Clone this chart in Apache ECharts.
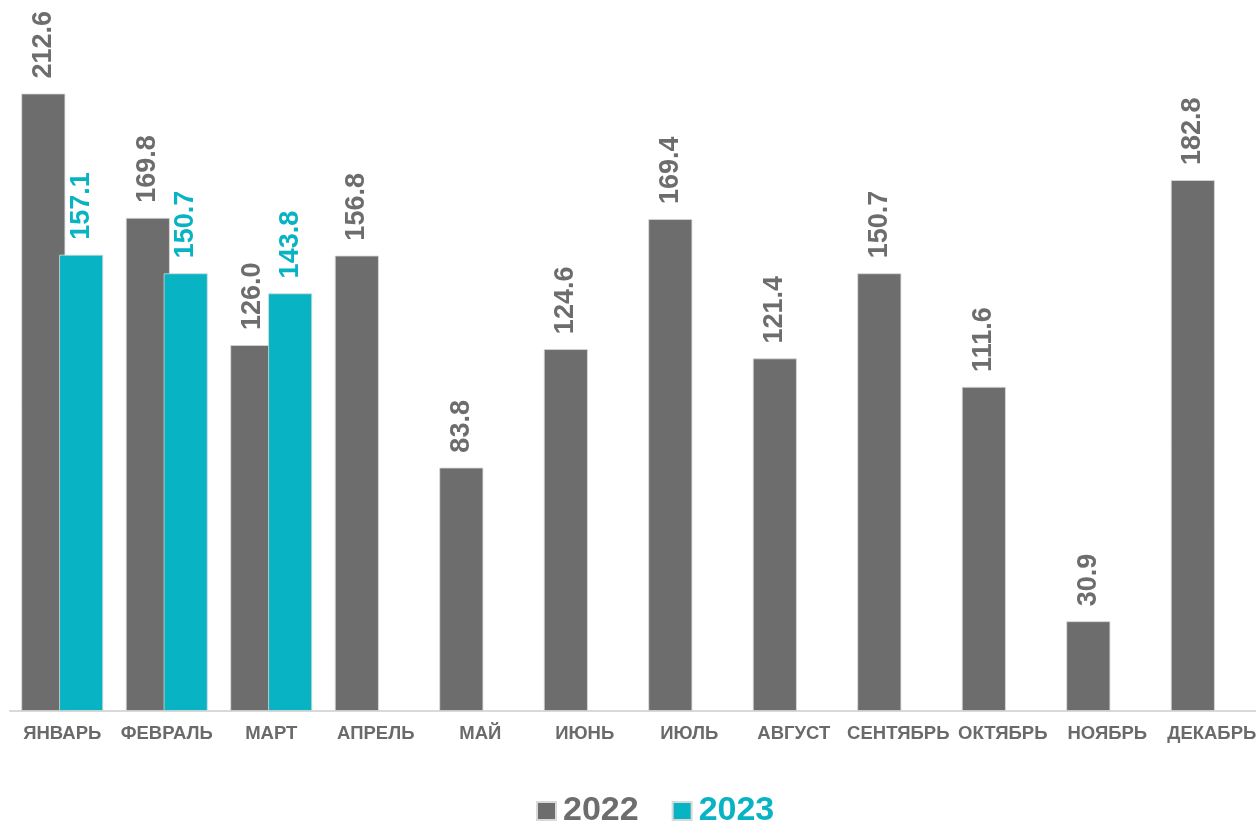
<!DOCTYPE html>
<html>
<head>
<meta charset="utf-8">
<script src="https://cdn.jsdelivr.net/npm/echarts@6/dist/echarts.min.js"></script>
<style>
html,body{margin:0;padding:0;background:#fff;overflow:hidden;width:1256px;height:822px;}
#chart{width:1264px;height:822px;}
</style>
</head>
<body>
<div id="chart"></div>
<script>
const categories = ['ЯНВАРЬ','ФЕВРАЛЬ','МАРТ','АПРЕЛЬ','МАЙ','ИЮНЬ','ИЮЛЬ','АВГУСТ','СЕНТЯБРЬ','ОКТЯБРЬ','НОЯБРЬ','ДЕКАБРЬ'];
const values2022 = [212.6,169.8,126.0,156.8,83.8,124.6,169.4,121.4,150.7,111.6,30.9,182.8];
const values2023 = [157.1,150.7,143.8,null,null,null,null,null,null,null,null,null];
const seriesNames = ['2022','2023'];
const colors = ['#6d6d6d','#08b3c4'];

const font = '"Liberation Sans", Arial, sans-serif';
const chart = echarts.init(document.getElementById('chart'), null, {renderer:'canvas'});

function makeSeries(name, data, color) {
  return {
    name: name,
    type: 'bar',
    data: data,
    barWidth: 44,
    barGap: '-14%',
    itemStyle: {color: color, borderColor: '#d9d9d9', borderWidth: 0.8},
    label: {
      show: true,
      position: 'top',
      rotate: 90,
      align: 'left',
      verticalAlign: 'middle',
      distance: 15,
      color: color,
      fontFamily: font,
      fontWeight: 'bold',
      fontSize: 27,
      formatter: p => (p.value == null ? '' : Number(p.value).toFixed(1))
    }
  };
}

chart.setOption({
  animation: false,
  grid: {left: 10, right: 0, top: 14, bottom: 111, containLabel: false},
  xAxis: {
    type: 'category',
    data: categories,
    axisLine: {show: true, lineStyle: {color: '#d9d9d9', width: 2}},
    axisTick: {show: false},
    axisLabel: {
      interval: 0,
      margin: 13,
      color: '#6a6a6a',
      fontFamily: font,
      fontWeight: 'bold',
      fontSize: 18.5
    }
  },
  yAxis: {
    type: 'value',
    min: 0,
    max: 240,
    show: false,
    splitLine: {show: false}
  },
  legend: {
    left: 531,
    top: 789,
    itemWidth: 19,
    itemHeight: 18,
    itemGap: 33,
    icon: 'rect',
    textStyle: {fontFamily: font, fontWeight: 'bold', fontSize: 34, padding: [0,0,0,2]},
    data: [
      {name: seriesNames[0], textStyle: {color: colors[0]}},
      {name: seriesNames[1], textStyle: {color: colors[1]}}
    ]
  },
  series: [
    makeSeries(seriesNames[0], values2022, colors[0]),
    makeSeries(seriesNames[1], values2023, colors[1])
  ]
});
</script>
</body>
</html>
